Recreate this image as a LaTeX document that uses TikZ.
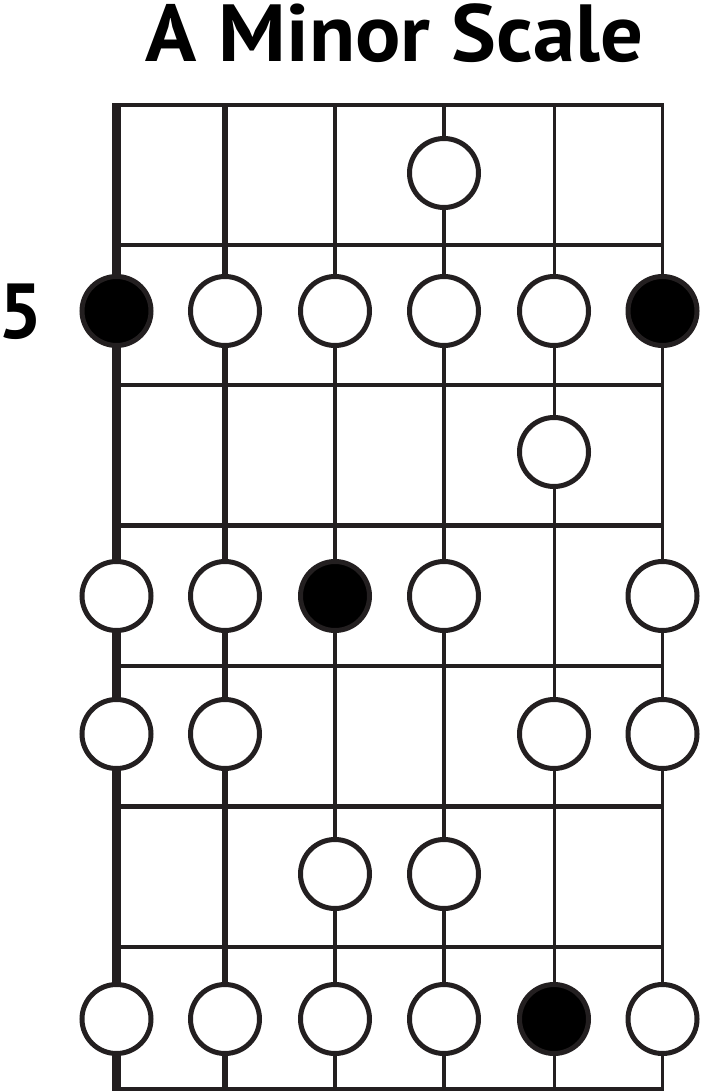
\documentclass[tikz,border=0pt]{standalone}
\usepackage{fontspec}
\setmainfont{PT Sans}
\definecolor{ink}{HTML}{231F20}
\begin{document}
\begin{tikzpicture}[x=1pt, y=-1pt,
          fret/.style={draw=ink, line width=4.5pt},
          opennote/.style={circle, minimum size=69pt, inner sep=0pt, line width=5pt, draw=ink, fill=white},
          rootnote/.style={opennote, fill=black}]
          \useasboundingbox (0,0) rectangle (701,1091);
          \node[font=\bfseries\fontsize{81}{81}\selectfont, anchor=base, xscale=1.045] (title) at (394.5,62){A Minor Scale};
          \node[font=\bfseries\fontsize{78}{78}\selectfont, anchor=base, inner sep=0pt] (pos) at (21,338){5};
          % frets
          \coordinate (fl0) at (112,105);  \coordinate (fr0) at (664,105);
          \coordinate (fl1) at (112,245);  \coordinate (fr1) at (664,245);
          \coordinate (fl2) at (112,385);  \coordinate (fr2) at (664,385);
          \coordinate (fl3) at (112,525.5);  \coordinate (fr3) at (664,525.5);
          \coordinate (fl4) at (112,666);  \coordinate (fr4) at (664,666);
          \coordinate (fl5) at (112,806.5);  \coordinate (fr5) at (664,806.5);
          \coordinate (fl6) at (112,947);  \coordinate (fr6) at (664,947);
          \coordinate (fl7) at (112,1089);  \coordinate (fr7) at (664,1089);
          \draw[fret](fl0) -- (fr0);
          \draw[fret](fl1) -- (fr1);
          \draw[fret](fl2) -- (fr2);
          \draw[fret](fl3) -- (fr3);
          \draw[fret](fl4) -- (fr4);
          \draw[fret](fl5) -- (fr5);
          \draw[fret](fl6) -- (fr6);
          \draw[fret](fl7) -- (fr7);
          % strings
          \coordinate (st1) at (116.5,105);  \coordinate (sb1) at (116.5,1089);
          \coordinate (st2) at (225,105);  \coordinate (sb2) at (225,1089);
          \coordinate (st3) at (335,105);  \coordinate (sb3) at (335,1089);
          \coordinate (st4) at (444,105);  \coordinate (sb4) at (444,1089);
          \coordinate (st5) at (554,105);  \coordinate (sb5) at (554,1089);
          \coordinate (st6) at (662.5,105);  \coordinate (sb6) at (662.5,1089);
          \draw[ink, line width=9pt](st1) -- (sb1);
          \draw[ink, line width=6pt](st2) -- (sb2);
          \draw[ink, line width=4.5pt](st3) -- (sb3);
          \draw[ink, line width=4pt](st4) -- (sb4);
          \draw[ink, line width=3pt](st5) -- (sb5);
          \draw[ink, line width=3pt](st6) -- (sb6);
          % notes
          \node[opennote] (nid14) at (444,173){};
          \node[rootnote] (nid21) at (116.5,311){};
          \node[opennote] (nid22) at (225,311){};
          \node[opennote] (nid23) at (335,311){};
          \node[opennote] (nid24) at (444,311){};
          \node[opennote] (nid25) at (554,311){};
          \node[rootnote] (nid26) at (662.5,311){};
          \node[opennote] (nid35) at (554,452){};
          \node[opennote] (nid41) at (116.5,596){};
          \node[opennote] (nid42) at (225,596){};
          \node[rootnote] (nid43) at (335,596){};
          \node[opennote] (nid44) at (444,596){};
          \node[opennote] (nid46) at (662.5,596){};
          \node[opennote] (nid51) at (116.5,734){};
          \node[opennote] (nid52) at (225,734){};
          \node[opennote] (nid55) at (554,734){};
          \node[opennote] (nid56) at (662.5,734){};
          \node[opennote] (nid63) at (335,874){};
          \node[opennote] (nid64) at (444,874){};
          \node[opennote] (nid71) at (116.5,1019){};
          \node[opennote] (nid72) at (225,1019){};
          \node[opennote] (nid73) at (335,1019){};
          \node[opennote] (nid74) at (444,1019){};
          \node[rootnote] (nid75) at (554,1019){};
          \node[opennote] (nid76) at (662.5,1019){};
        \end{tikzpicture}
\end{document}
